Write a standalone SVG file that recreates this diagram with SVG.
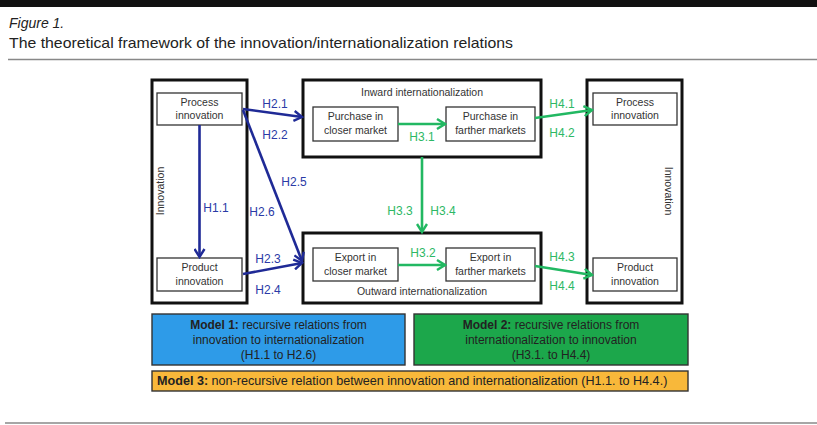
<svg xmlns="http://www.w3.org/2000/svg" width="817" height="425" viewBox="0 0 817 425">
  <defs>
    <style>
      text { font-family: "Liberation Sans", Arial, sans-serif; }
      .frame { fill: #fff; stroke: #111; stroke-width: 3; }
      .box { fill: #fff; stroke: #333; stroke-width: 1.3; }
      .t { font-size: 10.5px; fill: #333; text-anchor: middle; }
      .blue { stroke: #1f2a96; stroke-width: 2.6; fill: none; }
      .green { stroke: #22b862; stroke-width: 2.6; fill: none; }
      .lb { font-size: 12px; fill: #2a3aa6; text-anchor: middle; }
      .lg { font-size: 12px; fill: #2db865; text-anchor: middle; }
      .model { stroke: #333; stroke-width: 1.4; }
      .mt { font-size: 12px; fill: #222; text-anchor: middle; }
      .mt3 { font-size: 12.6px; fill: #222; text-anchor: start; }
    </style>
    <marker id="ab" viewBox="0 0 12 12" refX="10" refY="6" markerWidth="12" markerHeight="12" markerUnits="userSpaceOnUse" orient="auto">
      <path d="M2,1 L10,6 L2,11" fill="none" stroke="#1f2a96" stroke-width="2.4"/>
    </marker>
    <marker id="ag" viewBox="0 0 12 12" refX="10" refY="6" markerWidth="12" markerHeight="12" markerUnits="userSpaceOnUse" orient="auto">
      <path d="M2,1 L10,6 L2,11" fill="none" stroke="#22b862" stroke-width="2.4"/>
    </marker>
  </defs>

  <!-- page header -->
  <rect x="0" y="0" width="817" height="7" fill="#111"/>
  <text x="9" y="28" font-size="14" font-style="italic" fill="#222">Figure 1.</text>
  <text x="9" y="48" font-size="15" fill="#222" textLength="504" lengthAdjust="spacingAndGlyphs">The theoretical framework of the innovation/internationalization relations</text>
  <line x1="8" y1="59.5" x2="817" y2="59.5" stroke="#888" stroke-width="1.5"/>
  <line x1="5" y1="423" x2="817" y2="423" stroke="#888" stroke-width="1.5"/>

  <!-- left innovation block -->
  <g id="innovation-left">
    <rect class="frame" x="152" y="80" width="95" height="223"/>
    <text class="t" transform="translate(164,191) rotate(-90)">Innovation</text>
  </g>
  <g id="process-left">
    <rect class="box" x="157" y="93" width="85" height="32"/>
    <text class="t" x="199.5" y="106">Process</text>
    <text class="t" x="199.5" y="119">innovation</text>
  </g>
  <g id="product-left">
    <rect class="box" x="157" y="258" width="85" height="33"/>
    <text class="t" x="199.5" y="271">Product</text>
    <text class="t" x="199.5" y="285">innovation</text>
  </g>

  <!-- inward internationalization -->
  <g id="inward">
    <rect class="frame" x="303" y="80" width="238" height="77"/>
    <text class="t" x="422" y="96">Inward internationalization</text>
  </g>
  <g id="purchase-closer">
    <rect class="box" x="313" y="107" width="85" height="34"/>
    <text class="t" x="355.5" y="120">Purchase in</text>
    <text class="t" x="355.5" y="134">closer market</text>
  </g>
  <g id="purchase-farther">
    <rect class="box" x="446" y="107" width="89" height="34"/>
    <text class="t" x="490.5" y="120">Purchase in</text>
    <text class="t" x="490.5" y="134">farther markets</text>
  </g>

  <!-- outward internationalization -->
  <g id="outward">
    <rect class="frame" x="303" y="233" width="238" height="70"/>
    <text class="t" x="422" y="295">Outward internationalization</text>
  </g>
  <g id="export-closer">
    <rect class="box" x="313" y="248" width="85" height="33"/>
    <text class="t" x="355.5" y="261">Export in</text>
    <text class="t" x="355.5" y="275">closer market</text>
  </g>
  <g id="export-farther">
    <rect class="box" x="446" y="248" width="89" height="33"/>
    <text class="t" x="490.5" y="261">Export in</text>
    <text class="t" x="490.5" y="275">farther markets</text>
  </g>

  <!-- right innovation block -->
  <g id="innovation-right">
    <rect class="frame" x="587" y="80" width="95" height="223"/>
    <text class="t" transform="translate(665,191) rotate(90)">Innovation</text>
  </g>
  <g id="process-right">
    <rect class="box" x="593" y="93" width="84" height="32"/>
    <text class="t" x="635" y="106">Process</text>
    <text class="t" x="635" y="119">innovation</text>
  </g>
  <g id="product-right">
    <rect class="box" x="593" y="258" width="84" height="33"/>
    <text class="t" x="635" y="271">Product</text>
    <text class="t" x="635" y="285">innovation</text>
  </g>

  <!-- connectors -->
  <g id="connectors">
    <line class="blue" x1="199.5" y1="125" x2="199.5" y2="257" marker-end="url(#ab)"/>
    <line class="blue" x1="243" y1="109" x2="302" y2="117" marker-end="url(#ab)"/>
    <line class="blue" x1="243" y1="110" x2="302" y2="261" marker-end="url(#ab)"/>
    <line class="blue" x1="243" y1="274" x2="302" y2="263" marker-end="url(#ab)"/>

    <line class="green" x1="398" y1="124" x2="445" y2="124" marker-end="url(#ag)"/>
    <line class="green" x1="398" y1="265" x2="445" y2="265" marker-end="url(#ag)"/>
    <line class="green" x1="422" y1="157" x2="422" y2="232" marker-end="url(#ag)"/>
    <line class="green" x1="535" y1="118" x2="592" y2="110" marker-end="url(#ag)"/>
    <line class="green" x1="535" y1="266" x2="592" y2="275" marker-end="url(#ag)"/>

    <text class="lb" x="216" y="212">H1.1</text>
    <text class="lb" x="275" y="108">H2.1</text>
    <text class="lb" x="275" y="139">H2.2</text>
    <text class="lb" x="294" y="186">H2.5</text>
    <text class="lb" x="262" y="216">H2.6</text>
    <text class="lb" x="268" y="263">H2.3</text>
    <text class="lb" x="268" y="294">H2.4</text>

    <text class="lg" x="422" y="141">H3.1</text>
    <text class="lg" x="423" y="257">H3.2</text>
    <text class="lg" x="400" y="215">H3.3</text>
    <text class="lg" x="443" y="215">H3.4</text>
    <text class="lg" x="562" y="108">H4.1</text>
    <text class="lg" x="562" y="137">H4.2</text>
    <text class="lg" x="562" y="261">H4.3</text>
    <text class="lg" x="562" y="290">H4.4</text>
  </g>

  <!-- model legend -->
  <g id="model-1">
    <rect class="model" x="152" y="314" width="253" height="51" fill="#2e9be8"/>
    <text class="mt" x="278.5" y="329"><tspan font-weight="bold">Model 1:</tspan> recursive relations from</text>
    <text class="mt" x="278.5" y="344">innovation to internationalization</text>
    <text class="mt" x="278.5" y="359">(H1.1 to H2.6)</text>
  </g>
  <g id="model-2">
    <rect class="model" x="414" y="314" width="274" height="51" fill="#1ca74b"/>
    <text class="mt" x="551" y="329"><tspan font-weight="bold">Model 2:</tspan> recursive relations from</text>
    <text class="mt" x="551" y="344">internationalization to innovation</text>
    <text class="mt" x="551" y="359">(H3.1. to H4.4)</text>
  </g>
  <g id="model-3">
    <rect class="model" x="152" y="371" width="536" height="20" fill="#f8b83a"/>
    <text class="mt3" x="157" y="385"><tspan font-weight="bold">Model 3:</tspan> non-recursive relation between innovation and internationalization (H1.1. to H4.4.)</text>
  </g>
</svg>
